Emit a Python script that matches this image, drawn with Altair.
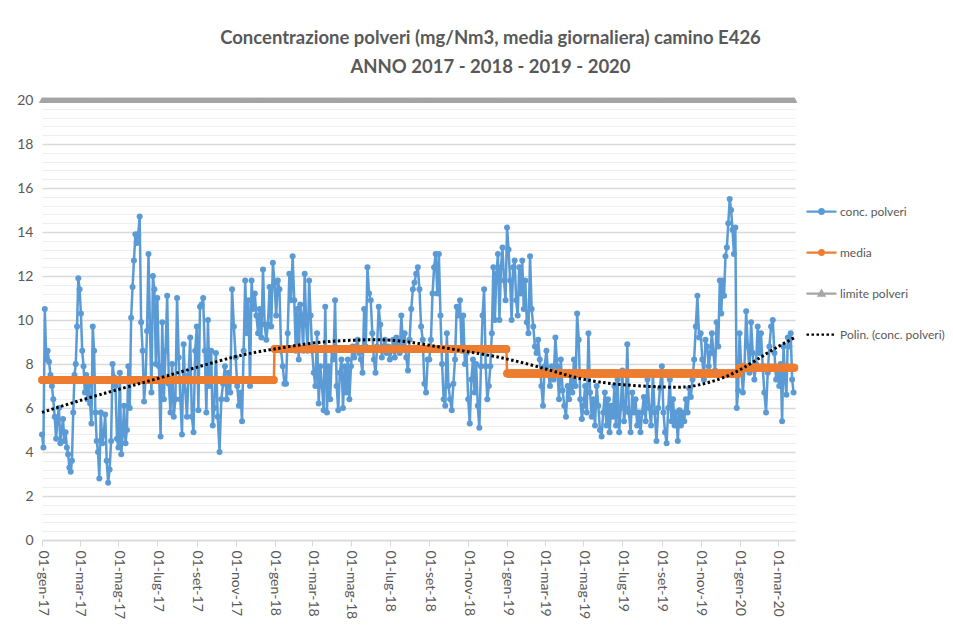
import calendar
import altair as alt
import pandas as pd

# ---------------- data ----------------
TITLE = ["Concentrazione polveri (mg/Nm3, media giornaliera) camino E426",
         "ANNO 2017 - 2018 - 2019 - 2020"]
SERIES = ["conc. polveri", "media", "limite polveri", "Polin. (conc. polveri)"]
MONTHS_IT = ["gen", "feb", "mar", "apr", "mag", "giu", "lug", "ago", "set", "ott", "nov", "dic"]

# daily concentration (mg/Nm3), sampled values per month
conc_2017 = [
    [4.8, 4.2, 10.5, 8.2, 8.6, 8.1, 7.5, 7.0, 6.4, 5.6, 4.6, 5.5, 6.0, 4.4],
    [5.0, 5.5, 4.5, 4.9, 4.2, 3.9, 3.3, 3.1, 3.6, 5.8, 7.5, 8.0, 9.7, 11.9],
    [11.4, 10.3, 8.6, 7.9, 6.7, 7.5, 6.4, 7.0, 6.2, 5.3, 9.7, 8.6, 5.8, 4.5, 4.0],
    [2.8, 5.8, 4.4, 4.8, 5.7, 3.6, 2.6, 3.2, 4.5, 8.0, 7.4, 7.0, 4.6],
    [4.2, 7.6, 3.9, 4.8, 6.1, 4.4, 5.0, 7.9, 6.0, 10.1, 11.5, 12.7, 13.9, 13.5],
    [13.9, 14.7, 9.9, 8.6, 6.3, 7.3, 9.5, 13.0, 9.7, 6.7, 12.0, 11.4, 8.0],
    [11.0, 7.9, 4.7, 9.9, 6.4, 8.6, 11.1, 7.1, 5.8, 8.0, 5.6, 6.4],
    [11.0, 8.3, 6.4, 4.8, 8.9, 6.8, 5.6, 7.5, 9.2, 5.6, 4.9, 8.6],
    [9.7, 5.9, 10.6, 10.7, 11.0, 8.6, 5.8, 10.0, 7.0, 8.6, 5.2, 6.0],
    [8.5, 5.6, 4.0, 6.4, 7.1, 7.9, 6.4, 7.6, 6.7, 11.4, 9.7],
    [8.3, 7.0, 6.1, 6.7, 5.4, 8.6, 11.8, 9.4, 10.9, 7.0, 11.8, 10.5],
    [11.2, 10.2, 9.4, 10.5, 9.2, 12.3, 9.8, 9.1, 9.8, 11.5, 9.7, 12.6],
]
conc_2018 = [
    [11.7, 10.2, 11.8, 11.4, 8.6, 7.9, 7.1, 7.1, 9.4, 12.1, 10.9, 12.9],
    [10.9, 8.6, 10.5, 8.2, 10.7, 10.2, 8.6, 12.1, 9.8, 8.6, 11.8, 10.2],
    [8.6, 7.6, 7.0, 9.4, 6.2, 7.9, 7.0, 5.9, 10.6, 5.8, 7.9, 6.4],
    [8.6, 8.2, 10.9, 7.0, 5.9, 7.6, 8.2, 6.0, 7.9, 6.7, 8.2, 6.4],
    [7.9, 8.8, 8.3, 8.8, 9.1, 8.5, 8.2, 7.6, 10.5, 8.8, 12.4, 11.2],
    [10.9, 9.4, 8.2, 7.6, 8.8, 10.6, 9.8, 8.3, 8.8, 9.1, 8.5, 8.8],
    [8.2, 8.6, 9.1, 8.3, 9.2, 8.8, 8.5, 10.2, 8.8, 9.4, 8.3, 7.7],
    [9.1, 10.5, 11.4, 11.7, 12.1, 12.4, 11.4, 9.7, 9.1, 7.1, 6.7, 8.2],
    [8.2, 9.1, 11.2, 12.4, 13.0, 11.2, 13.0, 10.2, 8.0, 6.4, 6.1, 9.4],
    [7.0, 6.4, 5.9, 7.1, 8.2, 10.6, 10.2, 10.9, 8.6, 10.2, 8.0, 8.5],
    [6.4, 5.3, 7.3, 8.2, 6.7, 8.0, 6.1, 5.1, 7.9, 10.2, 11.4, 7.9],
    [6.4, 7.0, 7.9, 9.4, 12.4, 10.0, 12.1, 13.0, 10.0, 12.4, 13.3, 11.8, 10.9],
]
conc_2019 = [
    [14.2, 13.2, 11.8, 10.0, 12.4, 12.7, 10.9, 10.2, 12.4, 11.2, 12.7, 10.5, 11.8],
    [9.9, 9.4, 12.9, 10.5, 9.7, 8.8, 8.5, 9.1, 8.2, 7.0, 6.1],
    [7.9, 8.6, 7.6, 7.0, 7.9, 7.3, 9.2, 7.9, 6.4, 8.2, 6.8],
    [6.1, 5.6, 7.0, 6.4, 7.6, 6.7, 8.2, 7.0, 10.3, 9.1, 6.4, 5.5],
    [6.1, 7.0, 5.8, 9.4, 6.7, 5.6, 6.4, 5.2, 7.0, 6.1, 5.0, 4.7],
    [5.8, 6.7, 5.2, 6.4, 4.9, 6.1, 5.6, 7.0, 5.2, 7.3, 4.9, 6.0],
    [7.7, 5.4, 6.0, 8.9, 5.8, 4.9, 6.7, 5.8, 6.4, 5.2, 5.8, 4.9],
    [5.8, 6.5, 5.4, 7.3, 6.0, 5.2, 7.5, 5.8, 4.5, 6.0, 6.9],
    [7.9, 5.8, 4.9, 4.4, 6.0, 7.3, 5.4, 6.4, 5.2, 5.8, 4.5, 5.9],
    [5.2, 5.8, 5.4, 6.4, 5.8, 6.9, 6.5, 7.3, 8.2, 9.7, 11.1, 9.2],
    [9.4, 8.2, 7.3, 9.1, 8.8, 7.9, 8.5, 9.4, 8.5, 7.7, 9.9, 8.8],
    [11.8, 10.3, 11.8, 11.1, 12.9, 13.3, 14.4, 15.5, 15.0, 14.1, 13.0, 14.2, 6.0, 6.8],
]
conc_2020 = [
    [9.4, 7.9, 6.7, 7.9, 10.4, 8.8, 7.6, 9.9, 8.5, 7.3, 8.0, 9.7],
    [8.5, 9.4, 7.9, 6.7, 5.8, 7.6, 8.8, 9.7, 10.0, 8.5, 7.3],
    [7.6, 7.0, 8.0, 5.4, 8.8, 7.3, 6.6, 9.2, 8.8, 9.4, 7.3, 6.7],
]
LAST_DAY = "2020-03-27"

media_by_year = {2017: 7.27, 2018: 8.68, 2019: 7.57, 2020: 7.83}
limite_value = 20

trend_dates = ["2017-01-01", "2017-04-01", "2017-07-15", "2017-10-27", "2018-01-01",
               "2018-03-08", "2018-05-14", "2018-07-16", "2018-10-02", "2018-12-20",
               "2019-03-08", "2019-05-26", "2019-09-08", "2019-10-29", "2019-12-20",
               "2020-02-11", "2020-03-27"]
trend_vals = [5.8, 6.6, 7.45, 8.3, 8.68, 8.97, 9.09, 9.05, 8.7, 8.3,
              7.73, 7.18, 6.95, 7.05, 7.55, 8.45, 9.2]

COLORS = ["#5B9BD5", "#ED7D31", "#A5A5A5", "#000000"]
TEXT = "#595959"
FONT = "Lato, DejaVu Sans Condensed, sans-serif"


def ms(ts):
    return int(pd.Timestamp(ts).value // 1_000_000)


# ---------------- tables ----------------
last = pd.Timestamp(LAST_DAY)
rows = []
for year, months in ((2017, conc_2017), (2018, conc_2018), (2019, conc_2019), (2020, conc_2020)):
    for mi, vals in enumerate(months, start=1):
        start = pd.Timestamp(year, mi, 1)
        ndays = calendar.monthrange(year, mi)[1]
        if year == last.year and mi == last.month:
            ndays = last.day
        step = ndays / len(vals)
        for i, v in enumerate(vals):
            rows.append({"t": ms(start + pd.Timedelta(days=i * step)), "v": v})
conc_df = pd.DataFrame(rows)

days = pd.date_range("2017-01-01", LAST_DAY, freq="D")
media_df = pd.DataFrame({"t": [ms(d) for d in days], "v": [media_by_year[d.year] for d in days]})
limite_df = pd.DataFrame({"t": [ms(d) for d in days], "v": [limite_value] * len(days)})
trend_df = pd.DataFrame({"t": [ms(d) for d in trend_dates], "v": trend_vals})
legend_df = pd.DataFrame({"serie": SERIES})

tick_ms = [ms(f"{y}-{m:02d}-01") for y in range(2017, 2021) for m in (1, 3, 5, 7, 9, 11)
           if pd.Timestamp(f"{y}-{m:02d}-01") <= last]
grid_vals = [round(0.4 * i, 1) for i in range(51)]
major = "abs(datum.value - 2*round(datum.value/2)) < 0.01"

x_axis = alt.Axis(values=tick_ms, labelAngle=90, labelOverlap=False, labelFlush=False,
                  labelExpr="'01-' + " + str(MONTHS_IT) + "[utcmonth(datum.value)] + '-' + utcFormat(datum.value, '%y')",
                  labelFont=FONT, labelFontSize=14, labelColor=TEXT, labelPadding=4,
                  tickSize=6, tickColor="#D9D9D9", domainColor="#D9D9D9", domainWidth=1.5,
                  grid=False, title=None)
y_axis = alt.Axis(values=grid_vals, labelExpr=major + " ? format(datum.value, 'd') : ''",
                  labelFont=FONT, labelFontSize=14, labelColor=TEXT, labelPadding=9,
                  ticks=False, domain=False, grid=True,
                  gridColor={"condition": {"test": major, "value": "#D9D9D9"}, "value": "#EEEEEE"},
                  gridWidth={"condition": {"test": major, "value": 1.5}, "value": 1},
                  title=None)

x_enc = alt.X("t:T", scale=alt.Scale(type="utc", domain=[ms("2017-01-01"), ms("2020-03-28")]),
              axis=x_axis, title=None)
y_enc = alt.Y("v:Q", scale=alt.Scale(domain=[0, 20], nice=False), axis=y_axis, title=None)

conc_line = alt.Chart(conc_df).mark_line(color=COLORS[0], strokeWidth=2.5).encode(x=x_enc, y=y_enc)
conc_pts = alt.Chart(conc_df).mark_point(filled=True, color=COLORS[0], size=36, opacity=1).encode(x=x_enc, y=y_enc)
media_line = alt.Chart(media_df).mark_line(color=COLORS[1], strokeWidth=2.5).encode(x=x_enc, y=y_enc)
media_pts = alt.Chart(media_df).mark_point(filled=True, color=COLORS[1], size=64, opacity=1).encode(x=x_enc, y=y_enc)
lim_line = alt.Chart(limite_df).mark_line(color=COLORS[2], strokeWidth=2).encode(x=x_enc, y=y_enc)
lim_pts = alt.Chart(limite_df).mark_point(filled=True, color=COLORS[2], size=40, shape="triangle-up", opacity=1).encode(x=x_enc, y=y_enc)
trend = alt.Chart(trend_df).mark_line(color="#000000", strokeWidth=3, strokeDash=[2.5, 2.5],
                                      interpolate="natural").encode(x=x_enc, y=y_enc)

legend_def = alt.Legend(title=None, orient="none", legendX=763, legendY=95, padding=0,
                        symbolSize=900, symbolStrokeWidth=2.25, symbolOpacity=1,
                        labelFont=FONT, labelFontSize=12, labelColor=TEXT,
                        labelOffset=2, rowPadding=17, labelLimit=200)
paths = [
    "M-1,0H1M0.16,0A0.16,0.16,0,1,1,-0.16,0A0.16,0.16,0,1,1,0.16,0Z",
    "M-1,0H1M0.16,0A0.16,0.16,0,1,1,-0.16,0A0.16,0.16,0,1,1,0.16,0Z",
    "M-1,0H1M0,-0.18L0.18,0.14L-0.18,0.14Z",
    "M-1,0H1",
]
dashes = [[1, 0], [1, 0], [1, 0], [2.5, 2.5]]
legend_layer = alt.Chart(legend_df).mark_point(filled=True, opacity=0, strokeWidth=2.25).encode(
    fill=alt.Fill("serie:N", scale=alt.Scale(domain=SERIES, range=COLORS), legend=legend_def),
    stroke=alt.Stroke("serie:N", scale=alt.Scale(domain=SERIES, range=COLORS), legend=legend_def),
    shape=alt.Shape("serie:N", scale=alt.Scale(domain=SERIES, range=paths), legend=legend_def),
    strokeDash=alt.StrokeDash("serie:N", scale=alt.Scale(domain=SERIES, range=dashes), legend=legend_def),
)

chart = alt.layer(
    conc_line, conc_pts, media_line, media_pts, lim_line, lim_pts, trend, legend_layer
).properties(
    width=753, height=440,
    autosize=alt.AutoSizeParams(type="none"),
    padding={"left": 34, "top": 92, "right": 150, "bottom": 87},
    title=alt.TitleParams(text=TITLE, font=FONT, fontSize=18.5, fontWeight="bold", color=TEXT,
                          anchor="middle", dx=72, offset=17, lineHeight=29),
    background="white",
).configure_view(stroke=None)

chart.save("out.html", embed_options={"renderer": "svg", "actions": False})
